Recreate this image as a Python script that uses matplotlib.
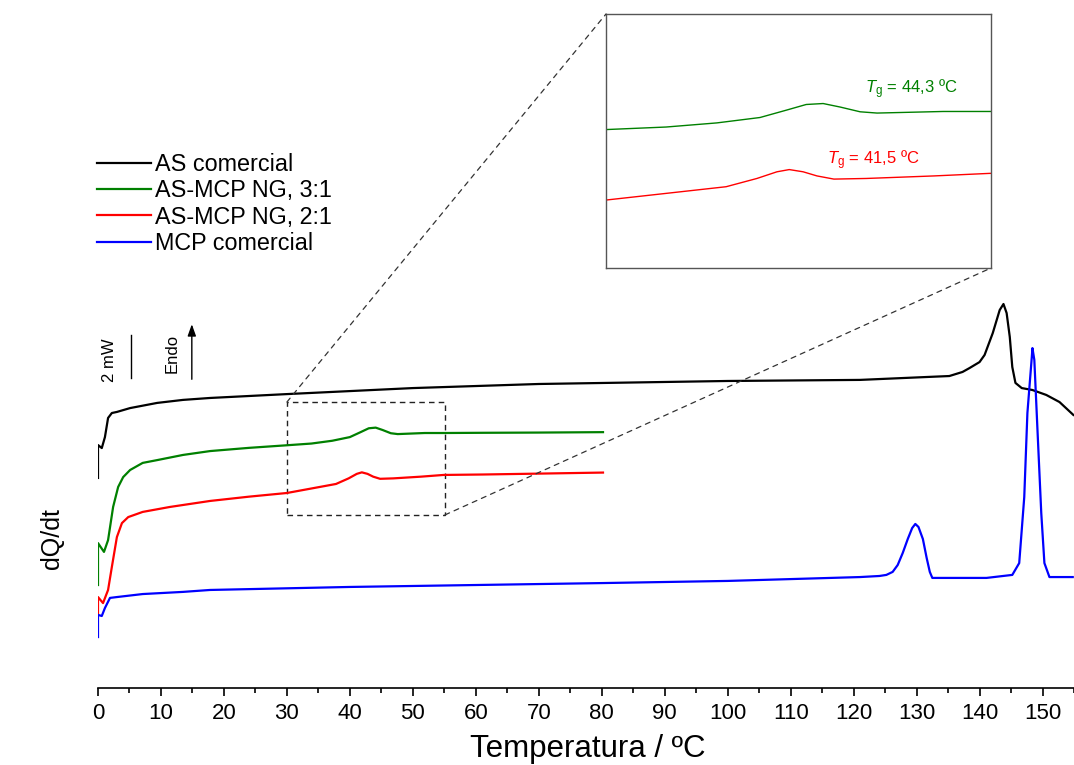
import matplotlib
matplotlib.use("Agg")
import matplotlib.pyplot as plt
from matplotlib.patches import Rectangle, ConnectionPatch

plt.rcParams['font.family'] = ['Liberation Sans', 'DejaVu Sans']
plt.rcParams['mathtext.fontset'] = 'custom'
plt.rcParams['mathtext.rm'] = 'Liberation Sans'
plt.rcParams['mathtext.it'] = 'Liberation Sans:italic'

# ---------------- data (temperature in ºC, heat flow in mW, offset) ----------------
labels = ["AS comercial", "AS-MCP NG, 3:1", "AS-MCP NG, 2:1", "MCP comercial"]
colors = ["#000000", "#008000", "#ff0000", "#0000ff"]

T_as = [0, 0, 0.6, 1.1, 1.6, 2.2, 3.0, 5.1, 9.4, 13.5, 17.8, 30, 50, 70, 100, 121,
        132, 135.2, 137.3, 138.4, 140.0, 140.8, 142.1, 143.2, 143.8, 144.3, 144.8,
        145.2, 145.7, 146.7, 148.4, 150.6, 152.7, 154.9]
Q_as = [9.77, 11.30, 11.16, 11.67, 12.56, 12.79, 12.84, 13.02, 13.26, 13.40, 13.49,
        13.67, 13.95, 14.14, 14.28, 14.33, 14.47, 14.51, 14.70, 14.88, 15.16, 15.49,
        16.51, 17.58, 17.86, 17.44, 16.33, 14.93, 14.19, 13.95, 13.86, 13.63, 13.30, 12.70]

T_31 = [0, 0, 0.95, 1.6, 2.4, 3.2, 4.0, 5.1, 7.1, 9.4, 13.5, 17.8, 24, 30.0, 33.9,
        37.2, 40.0, 41.7, 43.0, 44.1, 45.2, 46.5, 47.6, 51.9, 54.9, 61.1, 69.7, 80.2]
Q_31 = [4.79, 6.74, 6.33, 6.88, 8.42, 9.35, 9.81, 10.14, 10.47, 10.60, 10.84, 11.02,
        11.17, 11.29, 11.37, 11.50, 11.67, 11.90, 12.08, 12.11, 12.00, 11.85, 11.81,
        11.86, 11.86, 11.87, 11.88, 11.90]

T_21 = [0, 0, 0.8, 1.6, 2.2, 3.0, 3.8, 4.8, 7.1, 11.4, 14.6, 17.8, 24, 30.0, 33.9,
        37.8, 39.8, 41.1, 41.9, 42.8, 43.7, 44.8, 46.9, 51.3, 54.9, 61.1, 69.7, 80.2]
Q_21 = [3.49, 4.23, 3.95, 4.56, 5.63, 7.02, 7.67, 7.95, 8.19, 8.42, 8.56, 8.70,
        8.90, 9.07, 9.28, 9.49, 9.75, 9.96, 10.03, 9.96, 9.83, 9.73, 9.75, 9.83,
        9.91, 9.93, 9.97, 10.02]

T_mcp = [0, 0, 0.6, 1.1, 1.9, 3.0, 7.1, 13.5, 17.8, 40, 60, 80, 100, 121, 124.1,
         125.2, 126.2, 127.0, 127.8, 128.6, 129.3, 129.8, 130.3, 131.0, 131.6, 132.1,
         132.5, 141.1, 145.2, 146.3, 147.1, 147.6, 148.3, 148.4, 148.7, 149.2, 149.8,
         150.3, 151.1, 154.8]
Q_mcp = [2.37, 3.40, 3.35, 3.72, 4.19, 4.23, 4.37, 4.47, 4.56, 4.70, 4.79, 4.88,
         4.98, 5.16, 5.21, 5.26, 5.40, 5.72, 6.28, 6.93, 7.44, 7.63, 7.49, 6.93,
         6.05, 5.40, 5.12, 5.12, 5.26, 5.81, 8.88, 12.79, 15.40, 15.81, 15.26, 12.00,
         8.14, 5.81, 5.16, 5.16]

series_T = [T_as, T_31, T_21, T_mcp]
series_Q = [Q_as, Q_31, Q_21, Q_mcp]

tg_labels = [r"$T_{\rm g}$ = 44,3 ºC", r"$T_{\rm g}$ = 41,5 ºC"]
tg_pos = [(46.8, 12.56), (44.35, 10.33)]
tg_colors = ["#008000", "#ff0000"]

zoom_x = (30.0, 55.1)
zoom_y = (8.05, 13.30)
inset_x = (30.0, 55.0)
inset_y = (6.93, 14.93)

xticks_major = list(range(0, 151, 10))
xticks_minor = list(range(5, 156, 10))

# ---------------- figure ----------------
W, H = 1074, 765
fig = plt.figure(figsize=(W / 100, H / 100), dpi=100)
ax = fig.add_axes([98 / W, 1 - 688 / H, 1 - 98 / W, 688 / H])
ax.set_xlim(0, 155)
ax.set_ylim(0, 32)

lines = []
for T, Q, c, lab in zip(series_T, series_Q, colors, labels):
    ln, = ax.plot(T, Q, color=c, lw=1.6, label=lab, solid_joinstyle='round')
    lines.append(ln)

for s in ['left', 'right', 'top']:
    ax.spines[s].set_visible(False)
ax.spines['bottom'].set_linewidth(1.2)
ax.set_yticks([])
ax.set_xticks(xticks_major)
ax.set_xticks(xticks_minor, minor=True)
ax.tick_params(axis='x', which='major', direction='out', length=6, width=1.2,
               labelsize=16, pad=5)
ax.tick_params(axis='x', which='minor', direction='out', length=3.5, width=1.2)

# scale bar and endo arrow
ax.plot([5.24, 5.24], [14.42, 16.42], color='black', lw=1)
ax.text(1.9, 15.25, "2 mW", rotation=90, ha='center', va='center', fontsize=12)
ax.annotate("", xy=(14.9, 17.05), xytext=(14.9, 14.23),
            arrowprops=dict(arrowstyle='-|>,head_length=0.7,head_width=0.25',
                            color='black', lw=1))
ax.text(11.7, 15.55, "Endo", rotation=90, ha='center', va='center', fontsize=12)

# zoom box
ax.add_patch(Rectangle((zoom_x[0], zoom_y[0]), zoom_x[1] - zoom_x[0],
                       zoom_y[1] - zoom_y[0], fill=False, ls=(0, (4, 3)),
                       lw=1, ec='#222222'))

# legend
fig.legend(handles=lines, labels=labels, loc='upper left',
           bbox_to_anchor=(97 / W, 1 - 153 / H), frameon=False, fontsize=16.8,
           handlelength=2.3, handletextpad=0.2, labelspacing=0.14,
           borderpad=0, borderaxespad=0)

# axis labels
fig.text(52 / W, 1 - 539 / H, "dQ/dt", rotation=90, ha='center', va='center',
         fontsize=18)
fig.text(588 / W, 1 - 749 / H, "Temperatura / ºC", ha='center', va='center',
         fontsize=22.5)

# inset
axi = fig.add_axes([606 / W, 1 - 268 / H, 385 / W, 254 / H])
for T, Q, c in zip(series_T[1:3], series_Q[1:3], colors[1:3]):
    axi.plot(T, Q, color=c, lw=1.0)
axi.set_xlim(*inset_x)
axi.set_ylim(*inset_y)
axi.set_xticks([])
axi.set_yticks([])
for s in axi.spines.values():
    s.set_color('#555555')
    s.set_linewidth(1.0)
for txt, (tx, ty), c in zip(tg_labels, tg_pos, tg_colors):
    axi.text(tx, ty, txt, color=c, fontsize=12, ha='left', va='center')

# connector lines
for (xa, ya), (xb, yb) in [((zoom_x[0], zoom_y[1]), (0, 1)),
                           ((zoom_x[1], zoom_y[0]), (1, 0))]:
    con = ConnectionPatch(xyA=(xa, ya), coordsA=ax.transData,
                          xyB=(xb, yb), coordsB=axi.transAxes,
                          ls=(0, (4, 4)), lw=0.9, color='#333333')
    fig.add_artist(con)

fig.savefig("out.png", dpi=100)
